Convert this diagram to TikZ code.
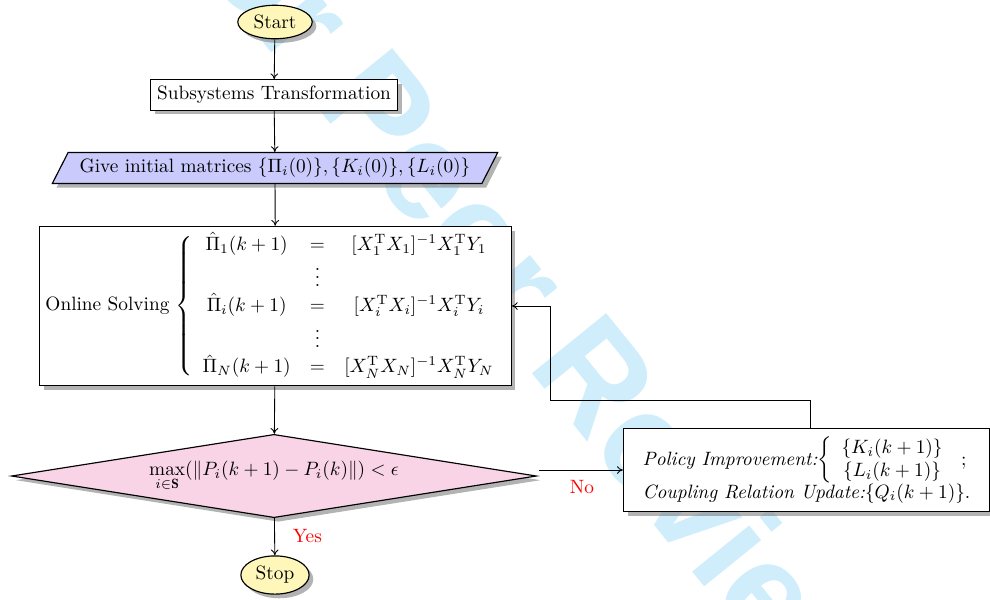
\documentclass[tikz,border=0pt]{standalone}
\usepackage{amsmath}
\usepackage{fontspec}
\newfontfamily\wmfont{Liberation Sans}
\usetikzlibrary{shapes.geometric,shadows,arrows.meta}
\definecolor{wmcol}{RGB}{208,237,251}
\definecolor{termfill}{RGB}{255,247,185}
\definecolor{iofill}{RGB}{202,202,252}
\definecolor{decfill}{RGB}{248,212,230}
\tikzset{
  base/.style={draw=black, semithick, drop shadow={opacity=.6}},
  term/.style={base, ellipse, fill=termfill, inner sep=2.5pt},
  procbox/.style={base, rectangle, fill=white},
  iobox/.style={base, trapezium, trapezium left angle=63, trapezium right angle=117, fill=iofill, inner xsep=6pt, inner ysep=3pt},
  decbox/.style={base, diamond, aspect=6.3, fill=decfill, inner sep=3pt},
  conn/.style={draw=black, -{To[length=3pt,width=4pt]}, line width=0.45pt},
  lab/.style={text=red, font=\normalsize}
}
\begin{document}
\begin{tikzpicture}[x=0.518pt, y=-0.518pt]
\useasboundingbox (0,0) rectangle (990,599);
% watermark
\node[rotate=-51, text=wmcol, font=\wmfont\bfseries\fontsize{72}{72}\selectfont] (wm) at (526,287) {For Peer Review};
% nodes
\node[term] (start) at (275,22) {Start};
\node[procbox] (trans) at (274,95) {Subsystems Transformation};
\node[iobox] (init) at (275,168) {Give initial matrices $\{\Pi_i(0)\},\{K_i(0)\},\{L_i(0)\}$};
\node[procbox, inner xsep=3pt, inner ysep=3pt] (online) at (275.5,306) {Online Solving $\left\{\begin{array}{ccc}
\hat{\Pi}_1(k+1) & = & [X_1^{\mathrm{T}}X_1]^{-1}X_1^{\mathrm{T}}Y_1\\
 & \vdots & \\
\hat{\Pi}_i(k+1) & = & [X_i^{\mathrm{T}}X_i]^{-1}X_i^{\mathrm{T}}Y_i\\
 & \vdots & \\
\hat{\Pi}_N(k+1) & = & [X_N^{\mathrm{T}}X_N]^{-1}X_N^{\mathrm{T}}Y_N
\end{array}\right.$};
\node[decbox] (dec) at (274,476) {$\max\limits_{i\in\mathbf{S}}(\|P_i(k+1)-P_i(k)\|)<\epsilon$};
\node[term] (stop) at (275,575) {Stop};
\node[procbox, inner xsep=10pt, inner ysep=4.5pt, align=left] (upd) at (806.5,470) {\textit{Policy Improvement:}$\left\{\begin{array}{c}\{K_i(k+1)\}\\ \{L_i(k+1)\}\end{array}\right.$ ;\\[-1pt]
\textit{Coupling Relation Update:}$\{Q_i(k+1)\}$.};
% connectors
\draw[conn] (start) -- (trans);
\draw[conn] (trans) -- (init);
\draw[conn] (init) -- (online);
\draw[conn] (online) -- (dec);
\draw[conn] (dec) -- (stop);
\coordinate (nostart) at ([xshift=1pt]dec.east |- upd.west);
\draw[conn] (nostart) -- (upd.west);
\coordinate (fb1) at (810,400);
\coordinate (fb2) at (550,400);
\draw[conn] (upd.north -| fb1) -- (fb1) -- (fb2) |- (online.east);
% labels
\node[lab, anchor=west] (yes) at (286,536) {Yes};
\node[lab] (no) at (582,487) {No};
\end{tikzpicture}
\end{document}
